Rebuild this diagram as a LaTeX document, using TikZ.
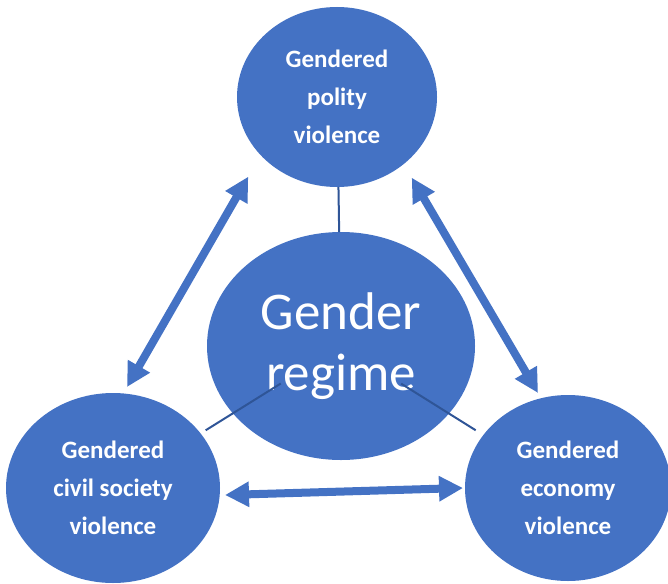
\documentclass[tikz,border=0pt]{standalone}
\usepackage{fontspec}
\setmainfont{Carlito}
\usetikzlibrary{shapes.geometric, arrows.meta}
\definecolor{regimeblue}{HTML}{4472C4}
\definecolor{linkblue}{HTML}{2F5597}

\begin{document}
\begin{tikzpicture}[x=1pt, y=-1pt,
  blob/.style={ellipse, fill=regimeblue, text=white, inner sep=0pt, outer sep=0pt, align=center},
  smalltxt/.style={font=\bfseries\fontsize{25}{38}\selectfont},
  bigtxt/.style={font=\fontsize{53}{61}\selectfont},
  link/.style={linkblue, line width=2pt},
  twoway/.style={regimeblue, line width=8pt, {Triangle[length=24pt,width=24pt]}-{Triangle[length=24pt,width=24pt]}}]
  \useasboundingbox (0,0) rectangle (668,583);
  % circles
  \node [blob, smalltxt, minimum width=200pt, minimum height=180pt] (polity) at (337,97) {Gendered\\polity\\violence};
  \node [blob, bigtxt, minimum width=268pt, minimum height=228pt] (regime) at (341,346) {Gender\\regime};
  \node [blob, smalltxt, minimum width=214pt, minimum height=190pt] (civil) at (113,488) {Gendered\\civil society\\violence};
  \node [blob, smalltxt, minimum width=206pt, minimum height=186pt] (economy) at (568,488) {Gendered\\economy\\violence};
  % thin links to the regime
  \draw [link] (polity) -- (regime);
  \draw [link, shorten <=6pt, shorten >=71pt] (civil) -- (regime.center);
  \draw [link, shorten <=9pt, shorten >=71pt] (economy) -- (regime.center);
  % arrows
  \draw [twoway] ([shift={(14,-6)}]civil.north) -- ([shift={(-18,16)}]polity.south west);
  \draw [twoway] ([shift={(4,17)}]polity.south east) -- ([shift={(-30,-2)}]economy.north);
  \draw [twoway] ([shift={(5,7)}]civil.east) -- ([shift={(-2,0)}]economy.west);
\end{tikzpicture}
\end{document}
